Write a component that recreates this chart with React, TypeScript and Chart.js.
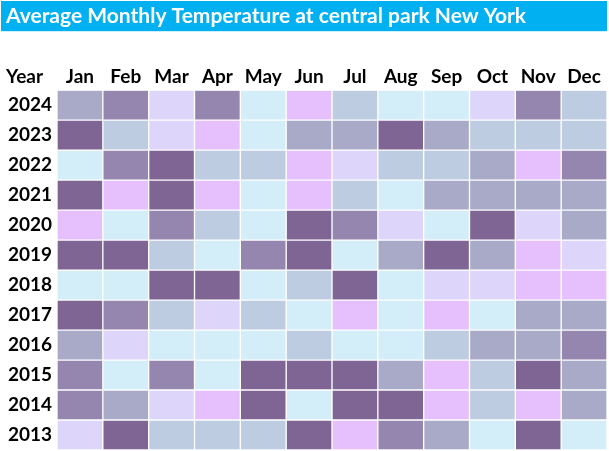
import { useEffect, useRef } from 'react';
import { Chart, registerables } from 'chart.js';

Chart.register(...registerables);

const TITLE = 'Average Monthly Temperature at central park New York';
const CORNER_LABEL = 'Year';
const MONTHS = ['Jan', 'Feb', 'Mar', 'Apr', 'May', 'Jun', 'Jul', 'Aug', 'Sep', 'Oct', 'Nov', 'Dec'];
const YEARS = ['2024', '2023', '2022', '2021', '2020', '2019', '2018', '2017', '2016', '2015', '2014', '2013'];

// colour class of each cell (index into PALETTE), one array per year, Jan..Dec
const CLASS_2024 = [4, 5, 1, 5, 0, 2, 3, 0, 0, 1, 5, 3];
const CLASS_2023 = [6, 3, 1, 2, 0, 4, 4, 6, 4, 3, 3, 3];
const CLASS_2022 = [0, 5, 6, 3, 3, 2, 1, 3, 3, 4, 2, 5];
const CLASS_2021 = [6, 2, 6, 2, 0, 2, 3, 0, 4, 4, 4, 4];
const CLASS_2020 = [2, 0, 5, 3, 0, 6, 5, 1, 0, 6, 1, 4];
const CLASS_2019 = [6, 6, 3, 0, 5, 6, 0, 4, 6, 4, 2, 1];
const CLASS_2018 = [0, 0, 6, 6, 0, 3, 6, 0, 1, 1, 2, 2];
const CLASS_2017 = [6, 5, 3, 1, 3, 0, 2, 0, 2, 0, 4, 4];
const CLASS_2016 = [4, 1, 0, 0, 0, 3, 0, 0, 3, 4, 4, 5];
const CLASS_2015 = [5, 0, 5, 0, 6, 6, 6, 4, 2, 3, 6, 4];
const CLASS_2014 = [5, 4, 1, 2, 6, 0, 6, 6, 2, 3, 2, 4];
const CLASS_2013 = [1, 6, 3, 3, 3, 6, 2, 5, 4, 0, 6, 0];

const CELL_CLASSES = [
  CLASS_2024, CLASS_2023, CLASS_2022, CLASS_2021, CLASS_2020, CLASS_2019,
  CLASS_2018, CLASS_2017, CLASS_2016, CLASS_2015, CLASS_2014, CLASS_2013,
];

const PALETTE = ['#D3EEF8', '#DDD6FA', '#E6C0FC', '#BDCCE1', '#A9AAC8', '#9486AE', '#7F6594'];

const FONT = 'Lato';
const LABEL_SIZE = 19;
const X_TICK_PAD = 2;

const titleBarPlugin = {
  id: 'titleBar',
  beforeDraw(chart: any) {
    const t = chart.titleBlock;
    if (!t) return;
    const ctx = chart.ctx;
    ctx.save();
    ctx.fillStyle = '#00B0F0';
    ctx.fillRect(t.left - 5, t.top, t.right - t.left + 5, t.bottom - t.top);
    ctx.restore();
  },
  afterDraw(chart: any) {
    const ctx = chart.ctx;
    const xs = chart.scales.x;
    const ys = chart.scales.y;
    ctx.save();
    ctx.font = `bold ${LABEL_SIZE}px ${FONT}`;
    ctx.fillStyle = '#000';
    ctx.textAlign = 'left';
    ctx.textBaseline = 'middle';
    ctx.fillText(CORNER_LABEL, ys.left, xs.bottom - X_TICK_PAD - (LABEL_SIZE * 1.2) / 2);
    ctx.restore();
  },
};

export default function App() {
  const ref = useRef<HTMLCanvasElement | null>(null);

  useEffect(() => {
    if (!ref.current) return;
    const datasets = MONTHS.map((m, mi) => ({
      label: m,
      data: YEARS.map(() => 1),
      backgroundColor: CELL_CLASSES.map((row) => PALETTE[row[mi]]),
      borderColor: '#FFFFFF',
      borderWidth: 1,
      borderSkipped: false as const,
      barPercentage: 1,
      categoryPercentage: 1,
    }));

    const chart = new Chart(ref.current, {
      type: 'bar',
      data: { labels: YEARS, datasets },
      plugins: [titleBarPlugin],
      options: {
        responsive: false,
        animation: false,
        indexAxis: 'y',
        layout: { padding: { left: 6, right: 2, top: 1, bottom: 1 } },
        scales: {
          x: {
            type: 'linear',
            stacked: true,
            position: 'top',
            min: 0,
            max: MONTHS.length,
            grid: { display: false, drawTicks: false },
            border: { display: false },
            afterBuildTicks: (s: any) => {
              s.ticks = MONTHS.map((_, i) => ({ value: i + 0.5 }));
            },
            ticks: {
              autoSkip: false,
              maxRotation: 0,
              padding: X_TICK_PAD,
              color: '#000',
              font: { family: FONT, weight: 'bold', size: LABEL_SIZE },
              callback: (_v: any, i: number) => MONTHS[i],
            },
            afterFit: (s: any) => {
              s.height = 59;
              s.paddingLeft = 0;
              s.paddingRight = 0;
            },
          },
          y: {
            type: 'category',
            stacked: true,
            grid: { display: false, drawTicks: false },
            border: { display: false },
            ticks: {
              padding: 5,
              color: '#000',
              font: { family: FONT, weight: 'bold', size: LABEL_SIZE },
            },
            afterFit: (s: any) => {
              s.width = 51;
              s.paddingTop = 0;
              s.paddingBottom = 0;
            },
          },
        },
        plugins: {
          legend: { display: false },
          tooltip: { enabled: false },
          title: {
            display: true,
            text: TITLE,
            align: 'start',
            color: '#FFFFFF',
            font: { family: FONT, weight: 'bold', size: 21 },
            padding: { top: 3, bottom: 2 },
          },
        },
      } as any,
    });
    return () => chart.destroy();
  }, []);

  return (
    <div style={{ position: 'fixed', left: 0, top: 0, width: 609, height: 451, background: '#fff' }}>
      <canvas ref={ref} width={609} height={451} style={{ width: 609, height: 451 }} />
    </div>
  );
}
